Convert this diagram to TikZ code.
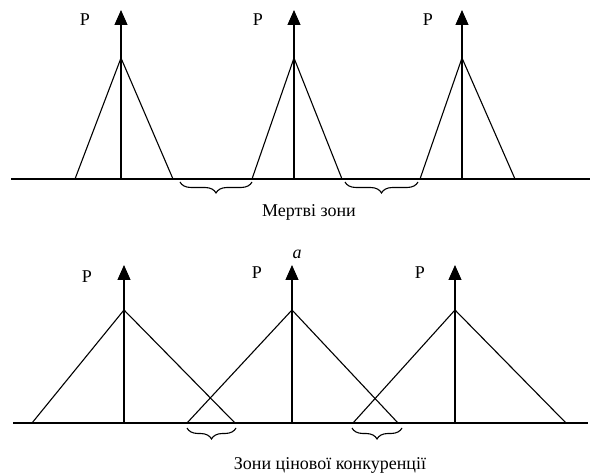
\documentclass[tikz,border=0pt]{standalone}
\usepackage{fontspec}
\setmainfont{Liberation Serif}
\usepackage{tikz}
\usetikzlibrary{arrows.meta,decorations.pathreplacing}

\begin{document}
\begin{tikzpicture}[x=1pt,y=-1pt,line width=1.1pt,
  axis/.style={-{Triangle[width=13pt,length=15pt]}},
  zone/.style={decorate,decoration={brace,mirror,amplitude=11pt,aspect=0.5}},
  lbl/.style={font=\fontsize{18}{20}\selectfont,inner sep=0pt}]
  \useasboundingbox (0,0) rectangle (590,476);
  % a: dead zones
  \coordinate (ub0) at (11,179);
  \coordinate (ub1) at (590,179);
  \draw (ub0) -- (ub1);
  \foreach \n/\x/\l/\r/\p in {1/121/75/173/85, 2/294/252/342/258, 3/462/420/515/428} {
    \coordinate (ua\n) at (\x,179);
    \coordinate (ut\n) at (\x,10);
    \coordinate (up\n) at (\x,58);
    \coordinate (ul\n) at (\l,179);
    \coordinate (ur\n) at (\r,179);
    \draw[axis] (ua\n) -- (ut\n);
    \draw (ul\n) -- (up\n) -- (ur\n);
    \node[lbl] (uP\n) at (\p,20) {P};
  }
  \coordinate (uz1a) at (180,182);
  \coordinate (uz1b) at (252,182);
  \coordinate (uz2a) at (345,182);
  \coordinate (uz2b) at (418,182);
  \draw[zone] (uz1a) -- (uz1b);
  \draw[zone] (uz2a) -- (uz2b);
  \node[lbl] (dead) at (309,212) {Мертві зони};
  \node[lbl] (parta) at (297,254) {\itshape a};
  % b: price competition zones
  \coordinate (lb0) at (13,423);
  \coordinate (lb1) at (588,423);
  \draw (lb0) -- (lb1);
  \foreach \n/\x/\l/\r/\p/\q in {1/124/32/235/87/277, 2/292/187/398/257/273, 3/455/353/566/420/273} {
    \coordinate (la\n) at (\x,423);
    \coordinate (lt\n) at (\x,265);
    \coordinate (lp\n) at (\x,310);
    \coordinate (ll\n) at (\l,423);
    \coordinate (lr\n) at (\r,423);
    \draw[axis] (la\n) -- (lt\n);
    \draw (ll\n) -- (lp\n) -- (lr\n);
    \node[lbl] (lP\n) at (\p,\q) {P};
  }
  \coordinate (lz1a) at (187,428);
  \coordinate (lz1b) at (236,428);
  \coordinate (lz2a) at (352,428);
  \coordinate (lz2b) at (402,428);
  \draw[zone] (lz1a) -- (lz1b);
  \draw[zone] (lz2a) -- (lz2b);
  \node[lbl] (compet) at (330,465) {Зони цінової конкуренції};
\end{tikzpicture}
\end{document}
